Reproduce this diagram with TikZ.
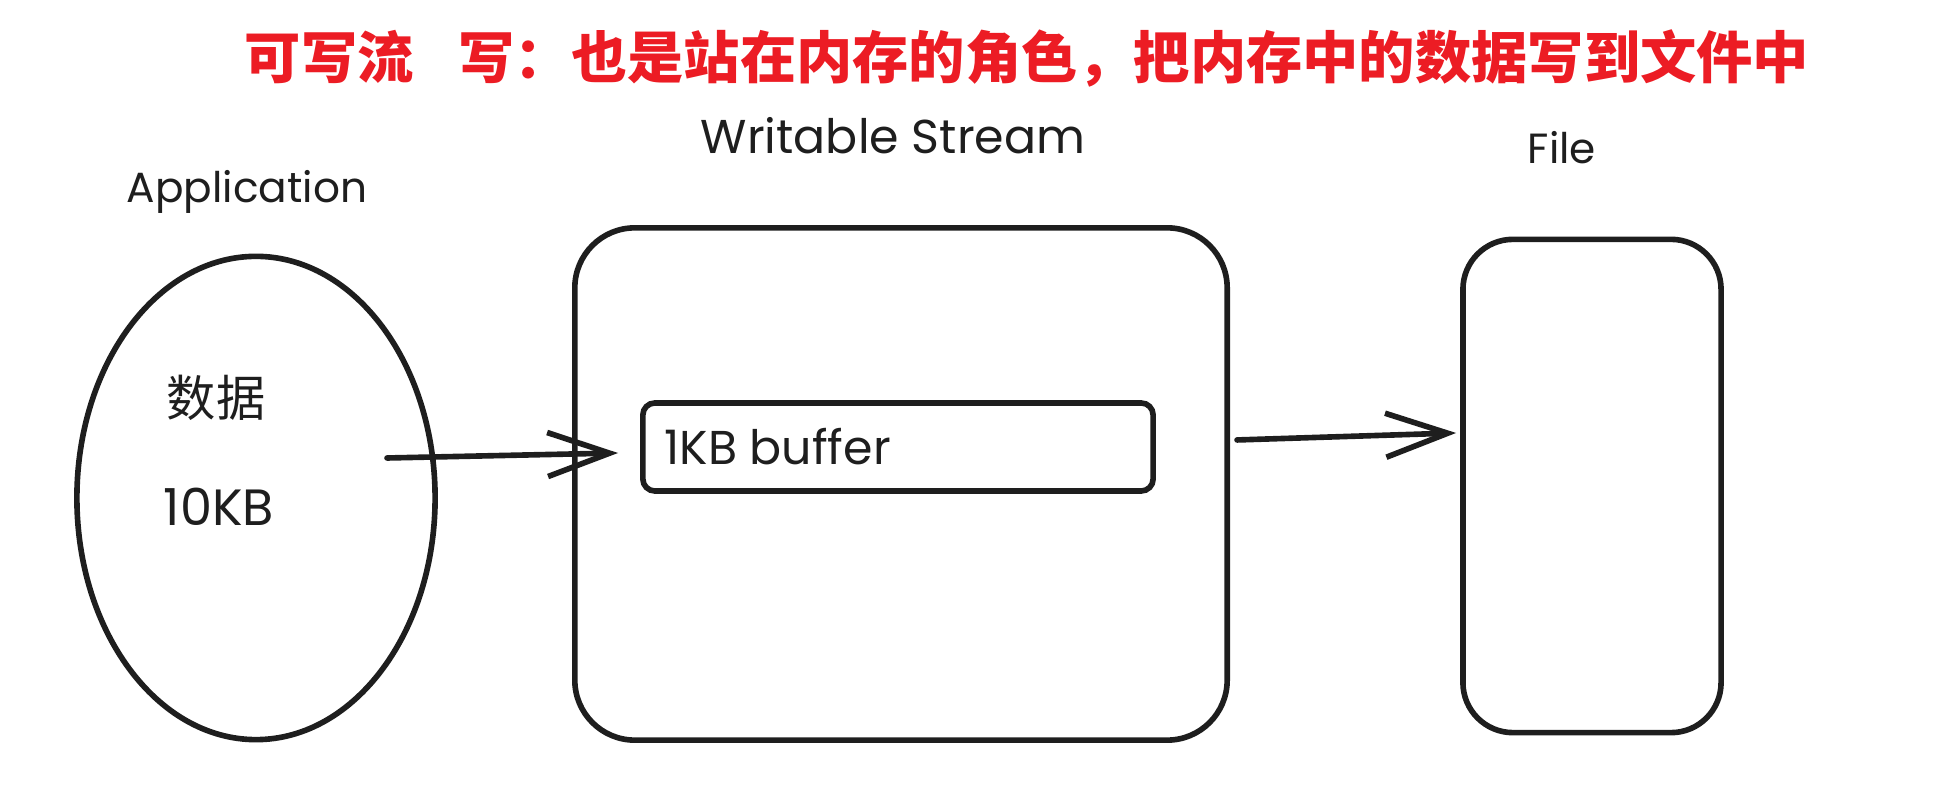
\documentclass[tikz,border=0pt]{standalone}
\usepackage{fontspec}
\setmainfont{Poppins}
\newfontfamily\cjk{Noto Sans CJK SC}
\usetikzlibrary{positioning, arrows.meta, shapes.geometric}
\definecolor{titlered}{RGB}{236,28,36}
\definecolor{ink}{RGB}{30,30,30}

\begin{document}
\begin{tikzpicture}[x=0.01cm, y=-0.01cm,
    sketch/.style={draw=ink, line width=1.6pt},
    box/.style={sketch, rectangle, rounded corners=0.6cm, inner sep=0pt},
    hand/.style={font=\fontsize{12}{14}\selectfont, text=ink},
    flow/.style={-{Straight Barb[length=6.2mm, width=4.4mm]}, draw=ink,
                 line width=1.6pt, line cap=round}]
  \useasboundingbox (0,0) rectangle (1939,786);
  \node[font=\cjk\bfseries\fontsize{16}{19}\selectfont, text=titlered] (title) at (1027,58)
    {可写流\hspace{0.8em}写：也是站在内存的角色，把内存中的数据写到文件中};

  \node[hand] (applabel) at (247,192) {Application};
  \node[sketch, ellipse, minimum width=3.58cm, minimum height=4.83cm] (app) at (256,498) {};
  \node[font=\cjk\fontsize{14}{16}\selectfont, text=ink] (data) at (216,398) {数据};
  \node[hand, font=\fontsize{14.5}{17}\selectfont] (size) at (219,507) {10KB};

  \node[hand, font=\fontsize{13.5}{16}\selectfont] (streamlabel) at (893,136) {Writable Stream};
  \node[box, minimum width=6.52cm, minimum height=5.12cm] (stream) at (901,484) {};
  \node[box, rounded corners=0.12cm, minimum width=5.10cm, minimum height=0.88cm] (buf) at (898,447) {};
  \node[hand, font=\fontsize{13.5}{16}\selectfont, right=0.12cm of buf.west] (buftext) {1KB buffer};

  \node[hand] (filelabel) at (1562,148) {File};
  \node[box, rounded corners=0.5cm, minimum width=2.58cm, minimum height=4.93cm] (file) at (1592,486) {};

  \coordinate (appout) at (387,458);
  \draw[flow] (appout) -- ([xshift=-0.22cm, yshift=-0.06cm]buf.west);
  \draw[flow] ([shift={(0.07cm,0.44cm)}]stream.east) -- ([shift={(-0.04cm,0.53cm)}]file.west);
\end{tikzpicture}
\end{document}
